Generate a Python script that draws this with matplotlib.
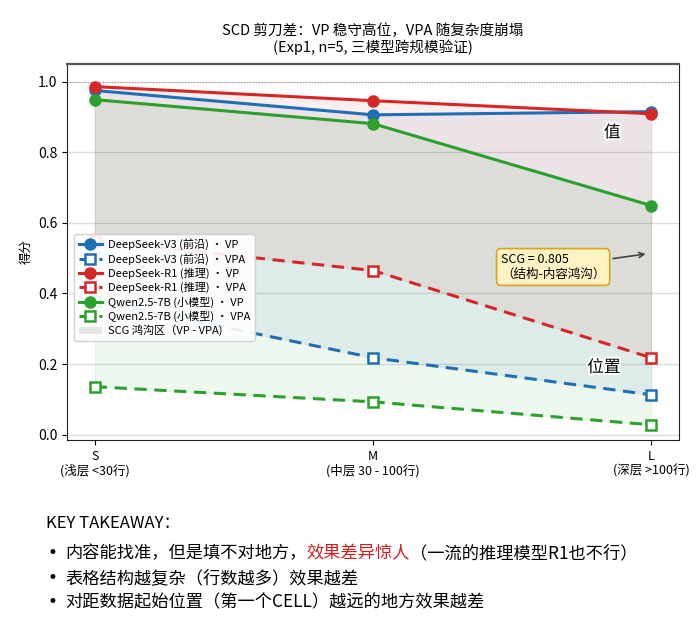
import matplotlib
matplotlib.use("Agg")
import matplotlib.pyplot as plt
import matplotlib.patheffects as pe
from matplotlib.patches import Patch
import numpy as np

plt.rcParams['font.family'] = ['Noto Sans CJK SC', 'DejaVu Sans']

levels = ["S\n(浅层 <30行)", "M\n(中层 30 - 100行)", "L\n(深层 >100行)"]
models = ["DeepSeek-V3 (前沿)", "DeepSeek-R1 (推理)", "Qwen2.5-7B (小模型)"]
vp_v3 = [0.975, 0.906, 0.915]
vpa_v3 = [0.38, 0.218, 0.113]
vp_r1 = [0.986, 0.946, 0.909]
vpa_r1 = [0.55, 0.465, 0.218]
vp_qw = [0.949, 0.881, 0.649]
vpa_qw = [0.136, 0.093, 0.028]
colors = ["#1f6fb4", "#d62728", "#2ca02c"]
scg_text = "SCG = 0.805\n（结构-内容鸿沟）"

fig = plt.figure(figsize=(7.0, 6.31), dpi=100)
ax = fig.add_axes([0.0957, 0.3027, 0.8743, 0.5959])
x = np.arange(len(levels))

series = [(vp_v3, vpa_v3), (vp_r1, vpa_r1), (vp_qw, vpa_qw)]
for (vp, vpa), c in zip(series, colors):
    ax.fill_between(x, vpa, vp, color=c, alpha=0.08, linewidth=0.8)

handles = []
for (vp, vpa), c, m in zip(series, colors, models):
    h1, = ax.plot(x, vp, '-', color=c, lw=2.2, marker='o', ms=8, label=f"{m} · VP", zorder=4)
    h2, = ax.plot(x, vpa, '--', color=c, lw=2.2, marker='s', ms=7, mfc='white', mew=1.8,
                  dashes=(4, 2.5), label=f"{m} · VPA", zorder=4)
    handles += [h1, h2]
handles.append(Patch(facecolor='#e6e6e6', edgecolor='none', label="SCG 鸿沟区（VP - VPA)"))

ax.axhline(1.0, color='#999999', lw=0.8, ls=':', zorder=1)
ax.set_xlim(-0.1, 2.1)
ax.set_ylim(-0.015, 1.05)
ax.set_yticks(np.arange(0, 1.01, 0.2))
ax.set_yticklabels([f"{v:.1f}" for v in np.arange(0, 1.01, 0.2)], fontsize=10)
ax.set_xticks(x)
ax.set_xticklabels(levels, fontsize=9, linespacing=1.15)
ax.grid(axis='y', color='#dddddd', lw=1.0)
ax.set_axisbelow(True)
ax.set_ylabel("得分", fontsize=9, labelpad=4)
for s in ['left', 'bottom', 'right']:
    ax.spines[s].set_color('#222222')
ax.spines['top'].set_color('#555555')
ax.spines['top'].set_linewidth(1.6)

ax.legend(handles=handles, loc='upper left', bbox_to_anchor=(0.003, 0.563), fontsize=8,
          framealpha=0.9, edgecolor='#cccccc', handlelength=2.1, labelspacing=0.28,
          borderpad=0.4, handletextpad=0.5)

stroke = [pe.withStroke(linewidth=3, foreground='white')]
ax.text(1.86, 0.855, "值", fontsize=12, ha='center', va='center', path_effects=stroke, zorder=6)
ax.text(1.83, 0.19, "位置", fontsize=12, ha='center', va='center', path_effects=stroke, zorder=6)

ax.annotate(scg_text, xy=(1.99, 0.513), xytext=(1.46, 0.475), fontsize=9,
            ha='left', va='center', multialignment='left',
            bbox=dict(boxstyle='round,pad=0.35', fc='#fff3c4', ec='#d9a520', lw=1.2),
            arrowprops=dict(arrowstyle='->', color='#444444', lw=1.2), zorder=7)

fig.suptitle("SCD 剪刀差：VP 稳守高位，VPA 随复杂度崩塌\n(Exp1, n=5, 三模型跨规模验证)",
             x=0.533, y=0.963, fontsize=10.5, linespacing=1.15)

fig.text(46/700, 1 - 523/631, "KEY TAKEAWAY：", fontsize=12, va='center')
fs = 12.4
ys = [553, 578, 602]
lines = [
    [("内容能找准，但是填不对地方，", 'black'), ("效果差异惊人", '#cc1f1f'), ("（一流的推理模型R1也不行）", 'black')],
    [("表格结构越复杂（行数越多）效果越差", 'black')],
    [("对距数据起始位置（第一个CELL）越远的地方效果越差", 'black')],
]
fig.canvas.draw()
renderer = fig.canvas.get_renderer()
for yy, parts in zip(ys, lines):
    fig.text(48 / 700, 1 - yy / 631, "•", fontsize=12, family='DejaVu Sans', va='center')
    xp = 65
    for txt, col in parts:
        t = fig.text(xp / 700, 1 - yy / 631, txt, fontsize=fs, color=col, va='center')
        bb = t.get_window_extent(renderer=renderer)
        xp += bb.width

fig.savefig("out.png", dpi=100)
